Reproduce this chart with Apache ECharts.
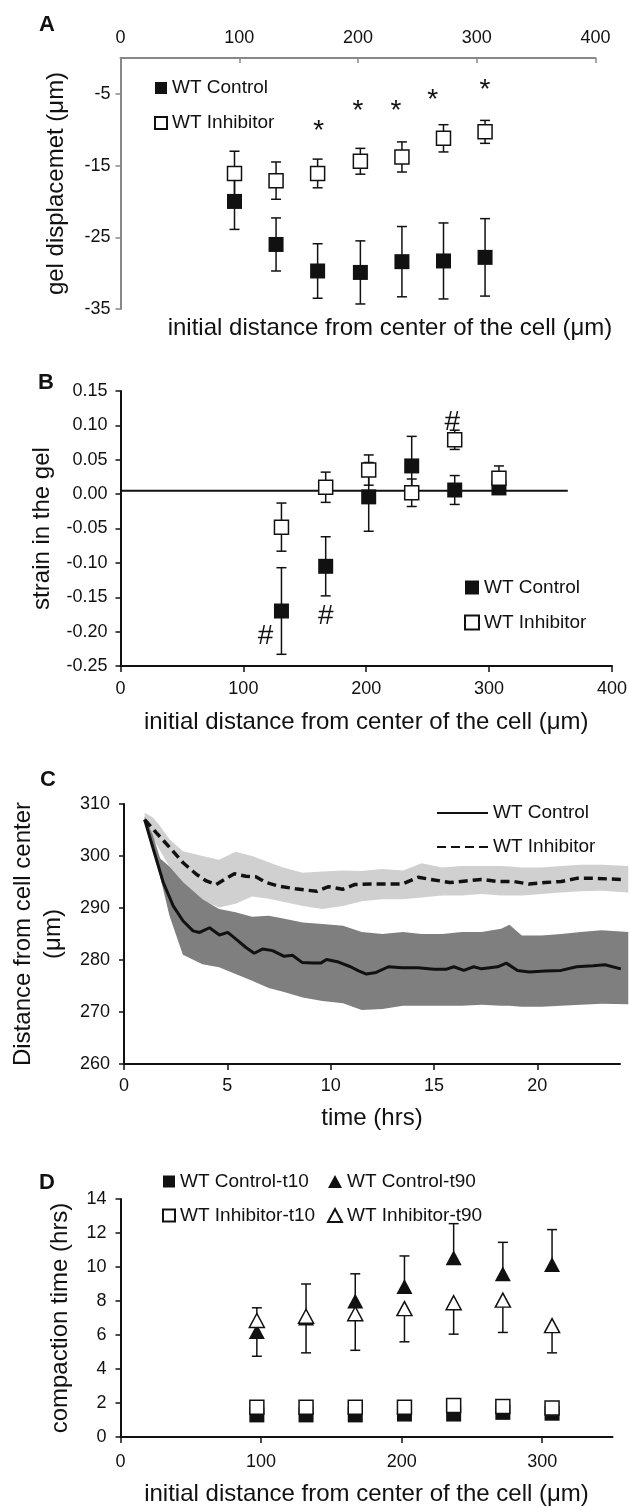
<!DOCTYPE html>
<html>
<head>
<meta charset="utf-8">
<script src="https://cdn.jsdelivr.net/npm/echarts@6/dist/echarts.min.js"></script>
<style>
html, body { margin: 0; padding: 0; background: #fff; }
#main { width: 630px; height: 1507px; }
</style>
</head>
<body>
<div id="main"></div>
<script>
// A - gel displacement
var aX = [96, 131, 166, 202, 237, 272, 307];
var aControl = [-20.0, -26.0, -29.7, -29.9, -28.4, -28.3, -27.8];
var aControlErr = [3.9, 3.7, 3.8, 4.4, 4.9, 5.3, 5.4];
var aInhib = [-16.1, -17.1, -16.1, -14.4, -13.8, -11.2, -10.3];
var aInhibErr = [3.1, 2.6, 2.0, 1.8, 2.1, 1.9, 1.6];
var aStarX = [167, 200, 232, 263, 307];
var aStarY = [-9.4, -6.6, -6.6, -5.1, -3.7];
var aXTicks = [0, 100, 200, 300, 400];
var aYTicks = [-35, -25, -15, -5];

// B - strain in the gel
var bX = [131, 167, 202, 237, 272, 308];
var bControl = [-0.170, -0.105, -0.004, 0.041, 0.006, 0.009];
var bControlErr = [0.063, 0.043, 0.050, 0.043, 0.021, 0.005];
var bInhib = [-0.048, 0.010, 0.035, 0.002, 0.079, 0.023];
var bInhibErr = [0.035, 0.022, 0.022, 0.020, 0.014, 0.018];
var bHashX = [118, 167, 270];
var bHashY = [-0.207, -0.178, 0.105];
var bBaseX = [0, 364];
var bBaseY = [0.005, 0.005];

// C - distance from cell center over time
var cCtrlT = [1, 1.42, 1.9, 2.38, 2.86, 3.34, 3.66, 4.14, 4.62, 5.02, 5.42, 5.9, 6.3, 6.7, 7.19, 7.75, 8.15, 8.63, 9.13, 9.52, 9.8, 10.38, 10.96, 11.35, 11.73, 12.2, 12.8, 13.46, 14.23, 15.0, 15.58, 15.96, 16.44, 16.92, 17.3, 18.08, 18.5, 19.04, 19.6, 20.38, 21.15, 21.9, 22.7, 23.27, 24.04];
var cCtrlV = [307, 301.3, 294.9, 290.4, 287.5, 285.6, 285.3, 286.2, 284.8, 285.3, 284, 282.4, 281.3, 282.1, 281.8, 280.7, 280.9, 279.5, 279.4, 279.4, 280.1, 279.6, 278.7, 277.9, 277.3, 277.6, 278.7, 278.5, 278.5, 278.2, 278.2, 278.7, 278, 278.7, 278.3, 278.7, 279.4, 278, 277.7, 277.9, 278, 278.7, 278.9, 279.1, 278.3];
var cInhT = [1, 1.58, 2.22, 2.86, 3.5, 3.98, 4.46, 4.86, 5.34, 5.9, 6.38, 6.87, 7.5, 8.3, 9.33, 9.9, 10.58, 11.15, 11.92, 12.7, 13.46, 14.23, 15.0, 15.77, 16.54, 17.3, 18.08, 18.85, 19.6, 20.38, 21.15, 21.9, 22.7, 24.04];
var cInhV = [307, 304.4, 301.6, 298.7, 296.5, 295.2, 294.5, 295.5, 296.6, 296.1, 296, 294.9, 294.2, 293.7, 293.2, 294.1, 293.6, 294.5, 294.6, 294.6, 294.6, 295.9, 295.4, 294.9, 295.2, 295.5, 295.1, 295.1, 294.6, 294.9, 295.1, 295.7, 295.7, 295.5];
var cBandT = [1, 1.4, 1.75, 2.2, 2.85, 3.8, 4.6, 5.4, 6.2, 7.0, 7.7, 8.65, 9.6, 10.6, 11.5, 12.5, 13.5, 14.4, 15.4, 16.35, 17.3, 18.25, 18.65, 19.25, 20.2, 21.15, 22.1, 23.1, 24.4];
var cCtrlHigh = [307.6, 304, 299.5, 298, 295, 291.7, 289.8, 289.2, 288.3, 288.5, 288, 287.2, 286.9, 286.6, 285.4, 285.0, 285.4, 285.0, 285.0, 285.4, 285.4, 286.0, 286.8, 284.7, 284.7, 285.0, 285.4, 285.7, 285.4];
var cCtrlLow = [307, 302, 296, 288.5, 281, 279.2, 278.6, 277.3, 276, 274.6, 273.9, 272.8, 272.1, 271.7, 270.4, 270.6, 271.2, 271.2, 271.2, 271.2, 271.4, 271.2, 271.2, 271, 271, 271.2, 271.4, 271.6, 271.5];
var cInhHigh = [308.3, 307.4, 305.7, 303.2, 300.9, 300, 299.3, 300.8, 300, 298.8, 297.8, 296.8, 297, 297.2, 297.1, 297.5, 297.2, 298.6, 297.8, 298.1, 298.1, 298.1, 298, 297.8, 297.8, 298.1, 298.3, 298.3, 298.1];
var cInhLow = [306.5, 303.5, 301, 298, 294.5, 291.5, 290.1, 290.8, 292.2, 291.8, 291.2, 290.4, 289.8, 290.4, 291.3, 291.7, 291.7, 292, 292.4, 292.4, 292.7, 292.4, 292.4, 292.4, 292.7, 293, 293.2, 293.3, 293];
var cXTicks = [0, 5, 10, 15, 20];

// D - compaction time
var dX = [97, 132, 167, 202, 237, 272, 307];
var dCtrlT10 = [1.3, 1.3, 1.3, 1.35, 1.35, 1.45, 1.4];
var dInhT10 = [1.75, 1.75, 1.75, 1.75, 1.85, 1.8, 1.7];
var dCtrlT90 = [6.2, 7.0, 8.0, 8.85, 10.55, 9.6, 10.15];
var dCtrlT90Err = [1.4, 2.0, 1.6, 1.8, 2.0, 1.85, 2.05];
var dInhT90 = [6.85, 7.1, 7.25, 7.55, 7.9, 8.05, 6.55];
var dInhT90Err = [2.1, 2.15, 2.15, 1.95, 1.85, 1.9, 1.6];
var dXTicks = [0, 100, 200, 300];

var FONT = 'Liberation Sans, Arial, sans-serif';
var INK = '#111';

function pairs(xs, ys) {
	var out = [];
	for (var i = 0; i < xs.length; i++) out.push([xs[i], ys[i]]);
	return out;
}

// dir: 1 up, -1 down, 0 both; each item = [x, from, to], cap drawn at "to"
function errData(xs, ys, errs, dir) {
	var out = [];
	for (var i = 0; i < xs.length; i++) {
		if (dir >= 0) out.push([xs[i], ys[i], ys[i] + errs[i]]);
		if (dir <= 0) out.push([xs[i], ys[i], ys[i] - errs[i]]);
	}
	return out;
}

function errorBar(params, api) {
	var x = api.value(0);
	var p0 = api.coord([x, api.value(1)]);
	var p1 = api.coord([x, api.value(2)]);
	var w = 5;
	var st = { stroke: INK, lineWidth: 1.5 };
	return {
		type: 'group',
		children: [
			{ type: 'line', shape: { x1: p0[0], y1: p0[1], x2: p1[0], y2: p1[1] }, style: st },
			{ type: 'line', shape: { x1: p1[0] - w, y1: p1[1], x2: p1[0] + w, y2: p1[1] }, style: st }
		]
	};
}

function band(ts, high, low, color) {
	return function (params, api) {
		var pts = [];
		for (var i = 0; i < ts.length; i++) pts.push(api.coord([ts[i], high[i]]));
		for (var j = ts.length - 1; j >= 0; j--) pts.push(api.coord([ts[j], low[j]]));
		return { type: 'polygon', shape: { points: pts }, style: { fill: color } };
	};
}

function stripName(n) { return n.split('@')[0]; }

var tickText = { fontSize: 18, color: INK, fontFamily: FONT };
var nameText = { fontSize: 24, color: INK, fontFamily: FONT };
var legendText = { fontSize: 19, color: INK, fontFamily: FONT };
var solid = { color: INK, opacity: 1 };
var open = { color: '#fff', borderColor: INK, borderWidth: 1.5, opacity: 1 };

var chart = echarts.init(document.getElementById('main'));
var option = {
	animation: false,
	backgroundColor: '#fff',
	grid: [
		{ left: 120.5, top: 58, width: 475, height: 251 },
		{ left: 120.5, top: 391, width: 493.5, height: 275 },
		{ left: 120.5, top: 804, width: 499.5, height: 260 },
		{ left: 120.5, top: 1199, width: 492, height: 240 }
	],
	xAxis: [
		{
			gridIndex: 0, type: 'value', position: 'top', min: 0, max: 400,
			axisLine: { onZero: false, lineStyle: { color: '#888', width: 2 } },
			axisTick: { inside: true, length: 5, lineStyle: { color: '#888', width: 1.5 }, customValues: aXTicks },
			axisLabel: Object.assign({ margin: 11, customValues: aXTicks }, tickText),
			splitLine: { show: false }
		},
		{
			gridIndex: 1, type: 'value', min: 0, max: 400, interval: 100,
			name: 'initial distance from center of the cell (μm)', nameLocation: 'middle', nameGap: 44, nameTextStyle: nameText,
			axisLine: { onZero: false, lineStyle: { color: INK, width: 2 } },
			axisTick: { length: 6, lineStyle: { color: INK, width: 1.5 } },
			axisLabel: Object.assign({ margin: 14 }, tickText),
			splitLine: { show: false }
		},
		{
			gridIndex: 2, type: 'value', min: 0, max: 24,
			name: 'time (hrs)', nameLocation: 'middle', nameGap: 42, nameTextStyle: nameText,
			axisLine: { onZero: false, lineStyle: { color: INK, width: 2 } },
			axisTick: { length: 6, lineStyle: { color: INK, width: 1.5 }, customValues: cXTicks },
			axisLabel: Object.assign({ margin: 13, customValues: cXTicks }, tickText),
			splitLine: { show: false }
		},
		{
			gridIndex: 3, type: 'value', min: 0, max: 350,
			name: 'initial distance from center of the cell (μm)', nameLocation: 'middle', nameGap: 45, nameTextStyle: nameText,
			axisLine: { onZero: false, lineStyle: { color: INK, width: 2 } },
			axisTick: { length: 6, lineStyle: { color: INK, width: 1.5 }, customValues: dXTicks },
			axisLabel: Object.assign({ margin: 16, customValues: dXTicks }, tickText),
			splitLine: { show: false }
		}
	],
	yAxis: [
		{
			gridIndex: 0, type: 'value', min: -35, max: 0,
			name: 'gel displacemet (μm)', nameLocation: 'middle', nameGap: 52, nameTextStyle: nameText,
			axisLine: { show: true, onZero: false, lineStyle: { color: '#888', width: 2 } },
			axisTick: { show: true, length: 5, lineStyle: { color: '#888', width: 1.5 }, customValues: aYTicks },
			axisLabel: Object.assign({ margin: 10, customValues: aYTicks }, tickText),
			splitLine: { show: false }
		},
		{
			gridIndex: 1, type: 'value', min: -0.25, max: 0.15, interval: 0.05,
			name: 'strain in the gel', nameLocation: 'middle', nameGap: 66, nameTextStyle: nameText,
			axisLine: { show: true, onZero: false, lineStyle: { color: INK, width: 2 } },
			axisTick: { show: true, length: 5, lineStyle: { color: INK, width: 1.5 } },
			axisLabel: Object.assign({
				margin: 13,
				formatter: function (v) { return Math.abs(v) < 1e-9 ? '0.00' : v.toFixed(2); }
			}, tickText),
			splitLine: { show: false }
		},
		{
			gridIndex: 2, type: 'value', min: 260, max: 310, interval: 10,
			name: 'Distance from cell center\n(μm)', nameLocation: 'middle', nameGap: 56,
			nameTextStyle: Object.assign({ lineHeight: 30 }, nameText),
			axisLine: { show: true, onZero: false, lineStyle: { color: INK, width: 2 } },
			axisTick: { show: true, length: 5, lineStyle: { color: INK, width: 1.5 } },
			axisLabel: Object.assign({ margin: 14 }, tickText),
			splitLine: { show: false }
		},
		{
			gridIndex: 3, type: 'value', min: 0, max: 14, interval: 2,
			name: 'compaction time (hrs)', nameLocation: 'middle', nameGap: 48, nameTextStyle: nameText,
			axisLine: { show: true, onZero: false, lineStyle: { color: INK, width: 2 } },
			axisTick: { show: true, length: 5, lineStyle: { color: INK, width: 1.5 } },
			axisLabel: Object.assign({ margin: 14 }, tickText),
			splitLine: { show: false }
		}
	],
	legend: [
		{
			data: ['WT Control@A', 'WT Inhibitor@A'], formatter: stripName,
			orient: 'vertical', left: 149, top: 73.5, itemWidth: 12, itemHeight: 12, itemGap: 16,
			textStyle: legendText, selectedMode: false
		},
		{
			data: ['WT Control@B', 'WT Inhibitor@B'], formatter: stripName,
			orient: 'vertical', left: 459, top: 573, itemWidth: 14, itemHeight: 14, itemGap: 16,
			textStyle: legendText, selectedMode: false
		},
		{
			data: ['WT Control@C', 'WT Inhibitor@C'], formatter: stripName,
			orient: 'vertical', left: 431, top: 798.5, itemWidth: 51, itemHeight: 14, itemGap: 15,
			itemStyle: { opacity: 0 },
			textStyle: legendText, selectedMode: false
		},
		{
			data: ['WT Control-t10', 'WT Inhibitor-t10'],
			orient: 'vertical', left: 157, top: 1167, itemWidth: 12, itemHeight: 12, itemGap: 15,
			textStyle: legendText, selectedMode: false
		},
		{
			data: ['WT Control-t90', 'WT Inhibitor-t90'],
			orient: 'vertical', left: 322, top: 1167, itemWidth: 14, itemHeight: 13, itemGap: 15,
			textStyle: legendText, selectedMode: false
		}
	],
	graphic: [
		{ type: 'text', x: 47, y: 25, style: { text: 'A', fontSize: 22, fontWeight: 'bold', fontFamily: FONT, fill: INK, align: 'center', verticalAlign: 'middle' } },
		{ type: 'text', x: 46, y: 383, style: { text: 'B', fontSize: 22, fontWeight: 'bold', fontFamily: FONT, fill: INK, align: 'center', verticalAlign: 'middle' } },
		{ type: 'text', x: 48, y: 780, style: { text: 'C', fontSize: 22, fontWeight: 'bold', fontFamily: FONT, fill: INK, align: 'center', verticalAlign: 'middle' } },
		{ type: 'text', x: 47, y: 1183, style: { text: 'D', fontSize: 22, fontWeight: 'bold', fontFamily: FONT, fill: INK, align: 'center', verticalAlign: 'middle' } },
		{ type: 'text', x: 390, y: 328, style: { text: 'initial distance from center of the cell (μm)', fontSize: 24, fontFamily: FONT, fill: INK, align: 'center', verticalAlign: 'middle' } }
	],
	series: [
		// ---- A
		{ type: 'custom', xAxisIndex: 0, yAxisIndex: 0, renderItem: errorBar, encode: { x: 0, y: [1, 2] }, data: errData(aX, aControl, aControlErr, 0), z: 2, silent: true },
		{ type: 'custom', xAxisIndex: 0, yAxisIndex: 0, renderItem: errorBar, encode: { x: 0, y: [1, 2] }, data: errData(aX, aInhib, aInhibErr, 0), z: 2, silent: true },
		{
			name: 'WT Control@A', type: 'scatter', xAxisIndex: 0, yAxisIndex: 0, symbol: 'rect', symbolSize: 15,
			itemStyle: solid, data: pairs(aX, aControl), z: 3
		},
		{
			name: 'WT Inhibitor@A', type: 'scatter', xAxisIndex: 0, yAxisIndex: 0, symbol: 'rect', symbolSize: 14,
			itemStyle: open, data: pairs(aX, aInhib), z: 4
		},
		{
			type: 'scatter', xAxisIndex: 0, yAxisIndex: 0, symbol: 'rect', symbolSize: 1, silent: true,
			itemStyle: { color: 'rgba(0,0,0,0)', opacity: 1 }, data: pairs(aStarX, aStarY),
			label: { show: true, position: 'inside', formatter: '*', fontSize: 28, color: INK, fontFamily: FONT, offset: [0, 6] }
		},
		// ---- B
		{
			type: 'line', xAxisIndex: 1, yAxisIndex: 1, data: pairs(bBaseX, bBaseY), symbol: 'none', silent: true,
			lineStyle: { color: INK, width: 2 }, z: 1
		},
		{ type: 'custom', xAxisIndex: 1, yAxisIndex: 1, renderItem: errorBar, encode: { x: 0, y: [1, 2] }, data: errData(bX, bControl, bControlErr, 0), z: 2, silent: true },
		{ type: 'custom', xAxisIndex: 1, yAxisIndex: 1, renderItem: errorBar, encode: { x: 0, y: [1, 2] }, data: errData(bX, bInhib, bInhibErr, 0), z: 2, silent: true },
		{
			name: 'WT Control@B', type: 'scatter', xAxisIndex: 1, yAxisIndex: 1, symbol: 'rect', symbolSize: 15,
			itemStyle: solid, data: pairs(bX, bControl), z: 3
		},
		{
			name: 'WT Inhibitor@B', type: 'scatter', xAxisIndex: 1, yAxisIndex: 1, symbol: 'rect', symbolSize: 14,
			itemStyle: open, data: pairs(bX, bInhib), z: 4
		},
		{
			type: 'scatter', xAxisIndex: 1, yAxisIndex: 1, symbol: 'rect', symbolSize: 1, silent: true,
			itemStyle: { color: 'rgba(0,0,0,0)', opacity: 1 }, data: pairs(bHashX, bHashY),
			label: { show: true, position: 'inside', formatter: '#', fontSize: 28, color: INK, fontFamily: FONT }, z: 5
		},
		// ---- C
		{ type: 'custom', xAxisIndex: 2, yAxisIndex: 2, renderItem: band(cBandT, cInhHigh, cInhLow, '#d0d0d0'), encode: { x: 0, y: 1 }, data: [[cBandT[0], cInhHigh[0]]], z: 1, silent: true },
		{ type: 'custom', xAxisIndex: 2, yAxisIndex: 2, renderItem: band(cBandT, cCtrlHigh, cCtrlLow, '#7f7f7f'), encode: { x: 0, y: 1 }, data: [[cBandT[0], cCtrlHigh[0]]], z: 2, silent: true },
		{
			name: 'WT Control@C', type: 'line', xAxisIndex: 2, yAxisIndex: 2, data: pairs(cCtrlT, cCtrlV), symbol: 'none',
			clip: false, lineStyle: { color: INK, width: 3 }, itemStyle: { color: INK }, z: 3
		},
		{
			name: 'WT Inhibitor@C', type: 'line', xAxisIndex: 2, yAxisIndex: 2, data: pairs(cInhT, cInhV), symbol: 'none',
			clip: false, lineStyle: { color: INK, width: 3.5, type: [9, 5] }, itemStyle: { color: INK }, z: 3
		},
		// ---- D
		{ type: 'custom', xAxisIndex: 3, yAxisIndex: 3, renderItem: errorBar, encode: { x: 0, y: [1, 2] }, data: errData(dX, dCtrlT90, dCtrlT90Err, 1), z: 2, silent: true },
		{ type: 'custom', xAxisIndex: 3, yAxisIndex: 3, renderItem: errorBar, encode: { x: 0, y: [1, 2] }, data: errData(dX, dInhT90, dInhT90Err, -1), z: 2, silent: true },
		{
			name: 'WT Control-t10', type: 'scatter', xAxisIndex: 3, yAxisIndex: 3, symbol: 'rect', symbolSize: 15,
			itemStyle: solid, data: pairs(dX, dCtrlT10), z: 3
		},
		{
			name: 'WT Inhibitor-t10', type: 'scatter', xAxisIndex: 3, yAxisIndex: 3, symbol: 'rect', symbolSize: 14,
			itemStyle: open, data: pairs(dX, dInhT10), z: 4
		},
		{
			name: 'WT Control-t90', type: 'scatter', xAxisIndex: 3, yAxisIndex: 3, symbol: 'triangle', symbolSize: [16, 15],
			itemStyle: solid, data: pairs(dX, dCtrlT90), z: 3
		},
		{
			name: 'WT Inhibitor-t90', type: 'scatter', xAxisIndex: 3, yAxisIndex: 3, symbol: 'triangle', symbolSize: [15, 14],
			itemStyle: open, data: pairs(dX, dInhT90), z: 4
		}
	]
};
chart.setOption(option);
</script>
</body>
</html>
